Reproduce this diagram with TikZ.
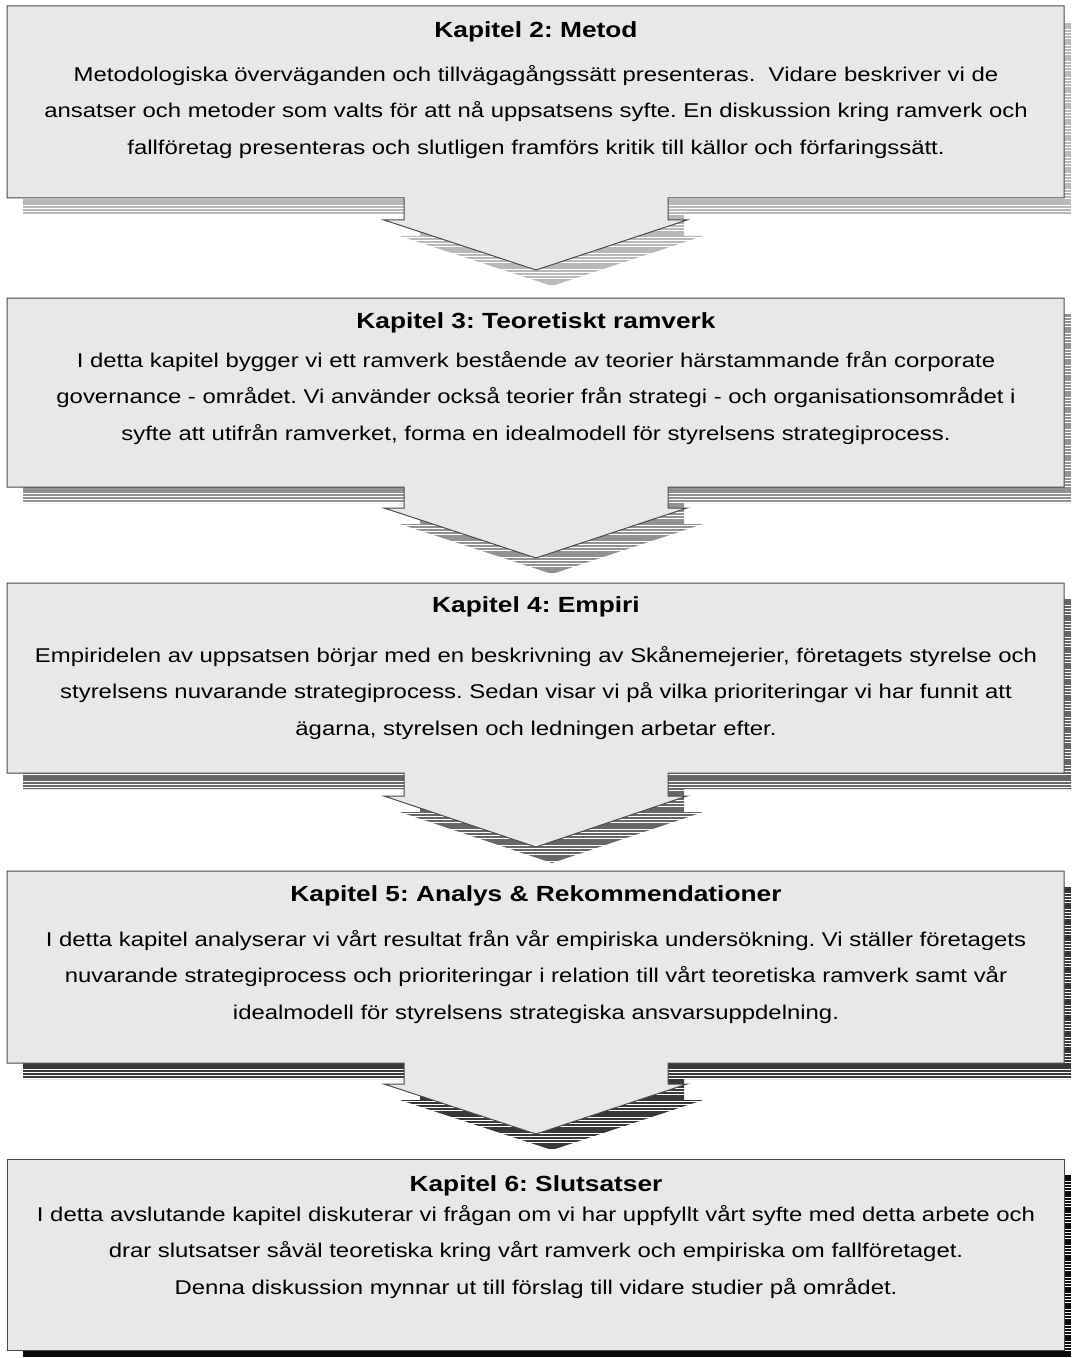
\documentclass[tikz,border=0pt]{standalone}
\usepackage{fontspec}
\setmainfont[FakeStretch=1.2]{Liberation Sans}
\definecolor{boxfill}{HTML}{E8E8E8}
\definecolor{edgecol}{HTML}{4A4A4A}
\definecolor{shA}{HTML}{B8B8B8}
\definecolor{shB}{HTML}{929292}
\definecolor{shC}{HTML}{666666}
\definecolor{shD}{HTML}{383838}
\definecolor{shE}{HTML}{0A0A0A}
\newcommand\arrowpath[4]{(7,#1) -- (1064,#1) -- (1064,#2) -- (668,#2) -- (668,#3) -- (687,#3) -- (536,#4) -- (384,#3) -- (404,#3) -- (404,#2) -- (7,#2) -- cycle}
\newcommand\plainpath[2]{(7,#1) rectangle (1064,#2)}
\newcommand\stripeshadow[4]{%
  \begin{scope}
    \clip[shift={(16,16)}] #1;
    \foreach \yy in {#3,...,#4}{\fill[#2] (0,\yy*3.2+0.8) rectangle (1071,\yy*3.2+3.2);}
  \end{scope}}
\tikzset{
  chapbox/.style={fill=boxfill,draw=edgecol,line width=1bp,line join=miter},
  titletext/.style={font=\fontsize{22}{26}\selectfont\bfseries,inner sep=0pt,anchor=center},
  bodytext/.style={font=\fontsize{20}{37}\selectfont,align=center,inner sep=0pt,anchor=center}
}
\begin{document}
\frenchspacing
\begin{tikzpicture}[x=1bp,y=-1bp]
\useasboundingbox (0,0) rectangle (1071,1358);
\fill[white] (0,0) rectangle (1071,1358);
% shadows
\stripeshadow{\arrowpath{6}{198}{220}{270}}{shA}{0}{95}
\stripeshadow{\arrowpath{298}{487}{508}{558}}{shB}{90}{185}
\stripeshadow{\arrowpath{583}{773}{796}{847}}{shC}{180}{275}
\stripeshadow{\arrowpath{871}{1063}{1084}{1134}}{shD}{270}{365}
\stripeshadow{\plainpath{1159}{1350}}{shE}{360}{425}
% boxes
\path[chapbox] \arrowpath{6}{198}{220}{270};
\path[chapbox] \arrowpath{298}{487}{508}{558};
\path[chapbox] \arrowpath{583}{773}{796}{847};
\path[chapbox] \arrowpath{871}{1063}{1084}{1134};
\path[chapbox] \plainpath{1159}{1350};
% texts
\node[titletext] (t2) at (536,32) {Kapitel 2: Metod};
\node[bodytext] (b2) at (536,112) {Metodologiska överväganden och tillvägagångssätt presenteras.\ \ Vidare beskriver vi de\\ansatser och metoder som valts för att nå uppsatsens syfte. En diskussion kring ramverk och\\fallföretag presenteras och slutligen framförs kritik till källor och förfaringssätt.};
\node[titletext] (t3) at (536,323) {Kapitel 3: Teoretiskt ramverk};
\node[bodytext] (b3) at (536,398) {I detta kapitel bygger vi ett ramverk bestående av teorier härstammande från corporate\\governance - området. Vi använder också teorier från strategi - och organisationsområdet i\\syfte att utifrån ramverket, forma en idealmodell för styrelsens strategiprocess.};
\node[titletext] (t4) at (536,607) {Kapitel 4: Empiri};
\node[bodytext] (b4) at (536,693) {Empiridelen av uppsatsen börjar med en beskrivning av Skånemejerier, företagets styrelse och\\styrelsens nuvarande strategiprocess. Sedan visar vi på vilka prioriteringar vi har funnit att\\ägarna, styrelsen och ledningen arbetar efter.};
\node[titletext] (t5) at (536,896) {Kapitel 5: Analys \& Rekommendationer};
\node[bodytext] (b5) at (536,977) {I detta kapitel analyserar vi vårt resultat från vår empiriska undersökning. Vi ställer företagets\\nuvarande strategiprocess och prioriteringar i relation till vårt teoretiska ramverk samt vår\\idealmodell för styrelsens strategiska ansvarsuppdelning.};
\node[titletext] (t6) at (536,1186) {Kapitel 6: Slutsatser};
\node[bodytext] (b6) at (536,1252) {I detta avslutande kapitel diskuterar vi frågan om vi har uppfyllt vårt syfte med detta arbete och\\drar slutsatser såväl teoretiska kring vårt ramverk och empiriska om fallföretaget.\\Denna diskussion mynnar ut till förslag till vidare studier på området.};
\end{tikzpicture}
\end{document}
